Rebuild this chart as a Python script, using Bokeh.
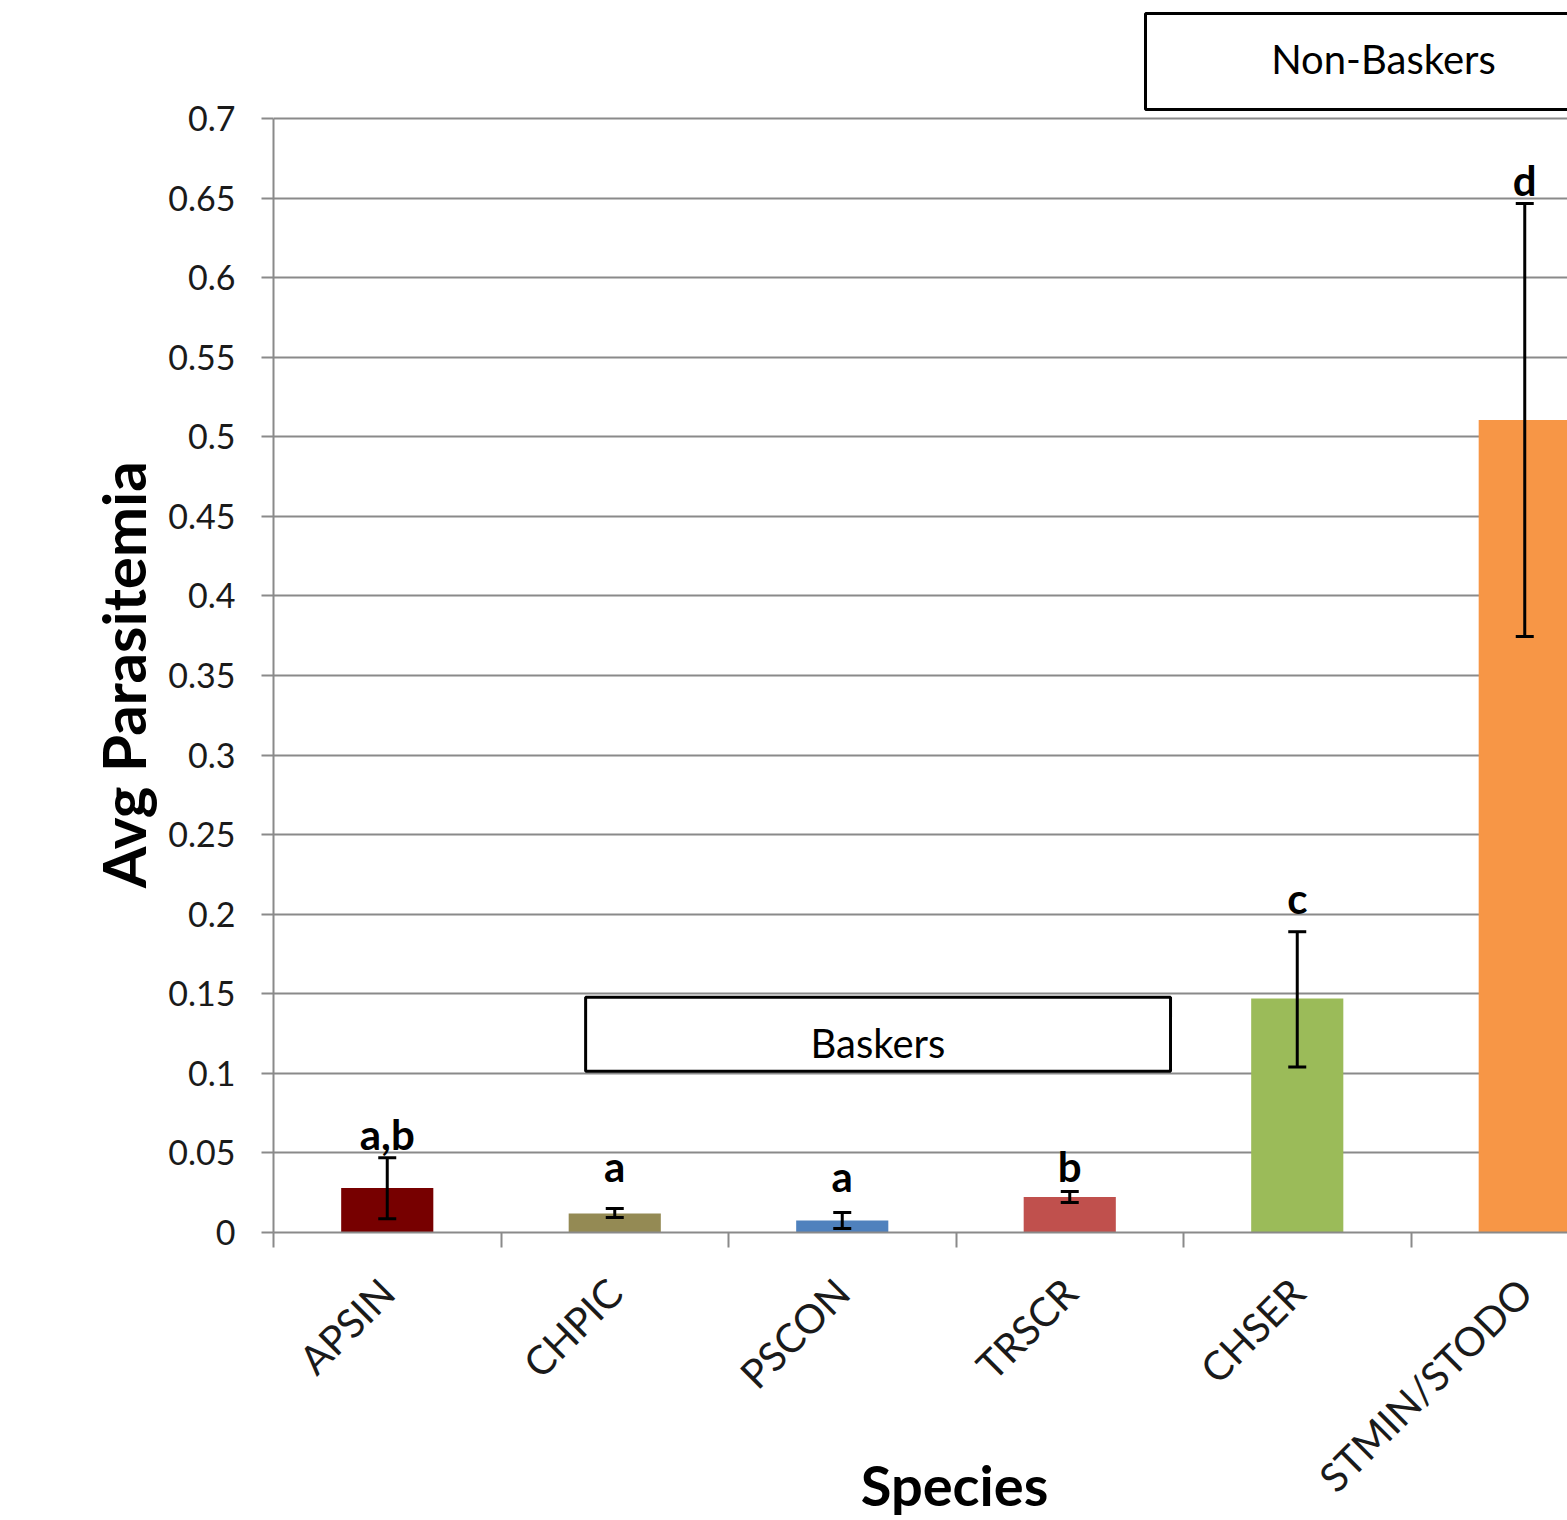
from math import pi

from bokeh.plotting import figure
from bokeh.models import (Range1d, FixedTicker, Whisker, TeeHead, ColumnDataSource,
                          BoxAnnotation, Label)
from bokeh.core.properties import value
from bokeh.embed import file_html
from bokeh.resources import INLINE

# --- data -------------------------------------------------------------------
species = ["APSIN", "CHPIC", "PSCON", "TRSCR", "CHSER", "STMIN/STODO"]
avg_parasitemia = [0.028, 0.012, 0.0075, 0.0223, 0.147, 0.5105]
err_upper = [0.047, 0.0151, 0.0126, 0.0258, 0.189, 0.6466]
err_lower = [0.0087, 0.0094, 0.0025, 0.0189, 0.104, 0.3745]
group_letters = ["a,b", "a", "a", "b", "c", "d"]
bar_colors = ["#770000", "#948A54", "#4F81BD", "#C0504D", "#9BBB59", "#F79646"]

y_ticks = [0, 0.05, 0.1, 0.15, 0.2, 0.25, 0.3, 0.35, 0.4, 0.45, 0.5, 0.55, 0.6, 0.65, 0.7]
y_tick_labels = ["0", "0.05", "0.1", "0.15", "0.2", "0.25", "0.3", "0.35", "0.4",
                 "0.45", "0.5", "0.55", "0.6", "0.65", "0.7"]

# --- layout -----------------------------------------------------------------
FONT = "Lato"
W, H = 1567, 1520
LEFT, BOTTOM = 273, 288
CAT_PX = 227.5                      # width of one category slot in pixels
AXIS_MAX = 0.7
PX_PER_UNIT = 1114 / AXIS_MAX       # vertical pixels per unit of parasitemia

x_end = (W - LEFT) / CAT_PX
y_end = (H - BOTTOM) / PX_PER_UNIT

GRID = "#8a8a8a"
TEXT = "#1a1a1a"
NBSP = "\u00a0"

# baseline of each significance letter above its bar
letter_y = [0.062, 0.0415, 0.0352, 0.0415, 0.2105, 0.6612]

xs = [i + 0.5 for i in range(len(species))]

src = ColumnDataSource(dict(
    x=xs, top=avg_parasitemia, upper=err_upper, lower=err_lower,
    color=bar_colors, letter=group_letters, ly=letter_y,
))

p = figure(width=W, height=H, x_range=Range1d(0, x_end), y_range=Range1d(0, y_end),
           output_backend="svg", toolbar_location=None,
           min_border_left=LEFT, min_border_right=0, min_border_top=0,
           min_border_bottom=BOTTOM)
p.outline_line_color = None
p.background_fill_color = "white"
p.border_fill_color = "white"

# bars
p.vbar(x="x", top="top", bottom=0, width=0.405, color="color", line_color=None, source=src)

# error bars
head = dict(size=18, line_width=3, line_color="black")
p.add_layout(Whisker(source=src, base="x", upper="upper", lower="lower",
                     line_width=3, line_color="black", level="annotation",
                     upper_head=TeeHead(**head), lower_head=TeeHead(**head)))

# significance letters
p.text(x="x", y="ly", text="letter", source=src, text_align="center",
       text_baseline="alphabetic", text_font=value(FONT), text_font_style="bold",
       text_font_size="42px", text_color="black")

# y axis
yax = p.yaxis[0]
yax.ticker = FixedTicker(ticks=y_ticks, minor_ticks=[])
yax.bounds = (0, AXIS_MAX)
yax.major_label_overrides = {t: s for t, s in zip(y_ticks, y_tick_labels)}
yax.major_label_text_font = FONT
yax.major_label_text_font_size = "34px"
yax.major_label_text_color = TEXT
yax.major_label_standoff = 26
yax.major_tick_out = 12
yax.major_tick_in = 0
yax.major_tick_line_color = GRID
yax.major_tick_line_width = 2
yax.minor_tick_line_color = None
yax.axis_line_color = GRID
yax.axis_line_width = 2
# trailing padding centres the title on the 0..0.7 span rather than the whole frame
yax.axis_label = "Avg Parasitemia" + NBSP * 8
yax.axis_label_text_font = FONT
yax.axis_label_text_font_style = "bold"
yax.axis_label_text_font_size = "60px"
yax.axis_label_text_color = "black"
yax.axis_label_standoff = 6

p.ygrid.grid_line_color = GRID
p.ygrid.grid_line_width = 2
p.xgrid.visible = False

# x axis: names at slot centres, tick marks at slot boundaries
xax = p.xaxis[0]
xax.ticker = FixedTicker(ticks=xs, minor_ticks=list(range(len(species) + 1)))
xax.major_label_overrides = {x: s for x, s in zip(xs, species)}
xax.major_label_orientation = pi / 4
xax.major_label_text_font = FONT
xax.major_label_text_font_size = "40px"
xax.major_label_text_color = TEXT
xax.major_label_standoff = 38
xax.major_tick_line_color = None
xax.major_tick_out = 15
xax.minor_tick_line_color = GRID
xax.minor_tick_line_width = 2
xax.minor_tick_out = 15
xax.minor_tick_in = 0
xax.axis_line_color = GRID
xax.axis_line_width = 2
# leading padding centres the title on all six category slots
xax.axis_label = NBSP * 5 + "Species"
xax.axis_label_text_font = FONT
xax.axis_label_text_font_style = "bold"
xax.axis_label_text_font_size = "56px"
xax.axis_label_text_color = "black"
xax.axis_label_standoff = -70

# group boxes
box_style = dict(fill_color="white", fill_alpha=1.0, line_color="black", line_alpha=1.0,
                 line_width=3, level="annotation")
label_style = dict(text_align="center", text_baseline="alphabetic", text_font=FONT,
                   text_font_size="40px", text_color="black")
p.add_layout(BoxAnnotation(left=1.372, right=3.943, bottom=0.1014, top=0.1479, **box_style))
p.add_layout(Label(x=2.657, y=0.1188, text="Baskers", **label_style))
p.add_layout(BoxAnnotation(left=3.833, right=6.3, bottom=0.7057, top=0.766, **box_style))
p.add_layout(Label(x=4.879, y=0.7377, text="Non-Baskers", **label_style))

open("out.html", "w").write(file_html(p, INLINE))
